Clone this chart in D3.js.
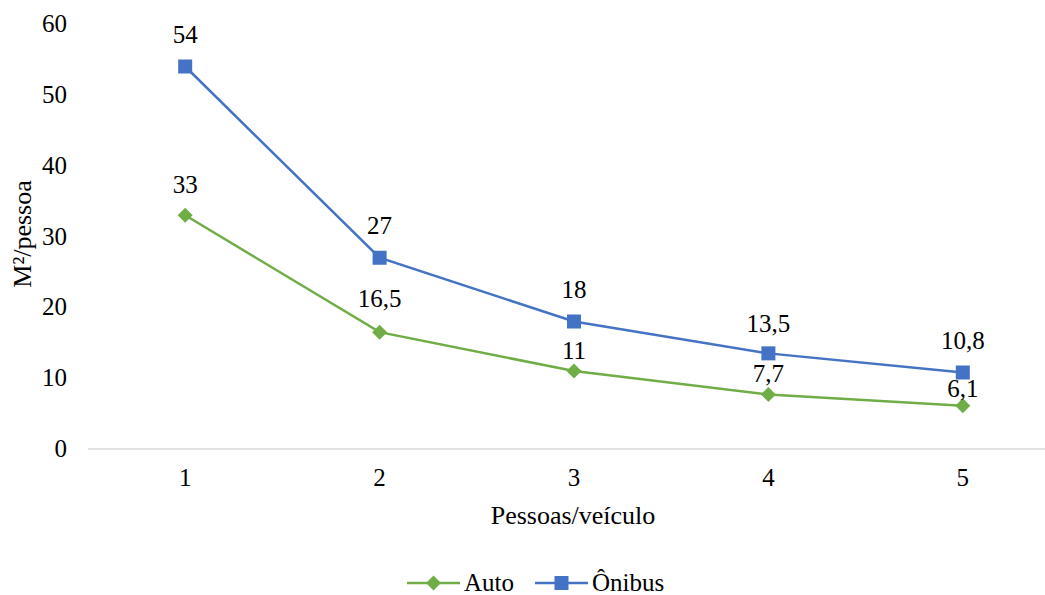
<!DOCTYPE html>
<html>
<head>
<meta charset="utf-8">
<script src="https://cdn.jsdelivr.net/npm/d3@7"></script>
<style>
  html, body { margin: 0; padding: 0; background: #fff; }
</style>
</head>
<body>
<svg id="chart" width="1045" height="595" font-family="'Liberation Serif', 'Times New Roman', 'DejaVu Serif', serif"></svg>
<script>
// Área ocupada por pessoa segundo a lotação do veículo
const categories = ["1", "2", "3", "4", "5"];
const autoValues = [33, 16.5, 11, 7.7, 6.1];
const onibusValues = [54, 27, 18, 13.5, 10.8];
const yTicks = [0, 10, 20, 30, 40, 50, 60];

// distância (px) entre o ponto e a linha de base do rótulo
const autoLabelGap = [22.5, 25, 12, 12.5, 8.5];
const onibusLabelGap = [23.5, 24, 23.5, 21.5, 23.5];

const series = [
  { name: "Auto", values: autoValues, gaps: autoLabelGap, color: "#70AD47", marker: "diamond" },
  { name: "Ônibus", values: onibusValues, gaps: onibusLabelGap, color: "#4472C4", marker: "square" }
];

const FS = 25;
const svg = d3.select("#chart");
const fmt = v => String(v).replace(".", ",");

const x = d3.scaleBand().domain(categories).range([88, 1060]);
const y = d3.scaleLinear().domain([0, 60]).range([449, 24]);
const cx = c => x(c) + x.bandwidth() / 2;

// eixo horizontal
svg.append("line")
  .attr("x1", 88).attr("x2", 1060)
  .attr("y1", y(0)).attr("y2", y(0))
  .attr("stroke", "#d9d9d9").attr("stroke-width", 1.5);

// rótulos do eixo Y
svg.append("g").selectAll("text").data(yTicks).join("text")
  .attr("x", 67).attr("y", d => y(d) + 8)
  .attr("text-anchor", "end")
  .attr("font-size", FS)
  .text(d => d);

// rótulos do eixo X
svg.append("g").selectAll("text").data(categories).join("text")
  .attr("x", d => cx(d)).attr("y", 486)
  .attr("text-anchor", "middle")
  .attr("font-size", FS)
  .text(d => d);

// títulos dos eixos
svg.append("text")
  .attr("x", 573).attr("y", 524)
  .attr("text-anchor", "middle")
  .attr("font-size", 26)
  .text("Pessoas/veículo");

svg.append("text")
  .attr("transform", "translate(31,234) rotate(-90)")
  .attr("text-anchor", "middle")
  .attr("font-size", 26)
  .text("M²/pessoa");

const line = d3.line()
  .x((d, i) => cx(categories[i]))
  .y(d => y(d));

function drawMarker(g, type, color, px, py) {
  if (type === "square") {
    g.append("rect")
      .attr("x", px - 7).attr("y", py - 7)
      .attr("width", 14).attr("height", 14)
      .attr("fill", color);
  } else {
    const r = 7.5;
    g.append("path")
      .attr("d", `M${px},${py - r}L${px + r},${py}L${px},${py + r}L${px - r},${py}Z`)
      .attr("fill", color);
  }
}

series.forEach(s => {
  const g = svg.append("g");
  g.append("path")
    .datum(s.values)
    .attr("d", line)
    .attr("fill", "none")
    .attr("stroke", s.color)
    .attr("stroke-width", 2.5);
  s.values.forEach((v, i) => drawMarker(g, s.marker, s.color, cx(categories[i]), y(v)));
  g.selectAll("text.lbl").data(s.values).join("text")
    .attr("class", "lbl")
    .attr("x", (d, i) => cx(categories[i]))
    .attr("y", (d, i) => y(d) - s.gaps[i])
    .attr("text-anchor", "middle")
    .attr("font-size", FS)
    .text(d => fmt(d));
});

// legenda
const legendItems = [
  { s: series[0], x0: 407 },
  { s: series[1], x0: 535 }
];
legendItems.forEach(({ s, x0 }) => {
  const g = svg.append("g");
  const ly = 583;
  g.append("line")
    .attr("x1", x0).attr("x2", x0 + 53)
    .attr("y1", ly).attr("y2", ly)
    .attr("stroke", s.color).attr("stroke-width", 2.5);
  drawMarker(g, s.marker, s.color, x0 + 26.5, ly);
  g.append("text")
    .attr("x", x0 + 57).attr("y", ly + 8)
    .attr("font-size", FS)
    .text(s.name);
});
</script>
</body>
</html>
